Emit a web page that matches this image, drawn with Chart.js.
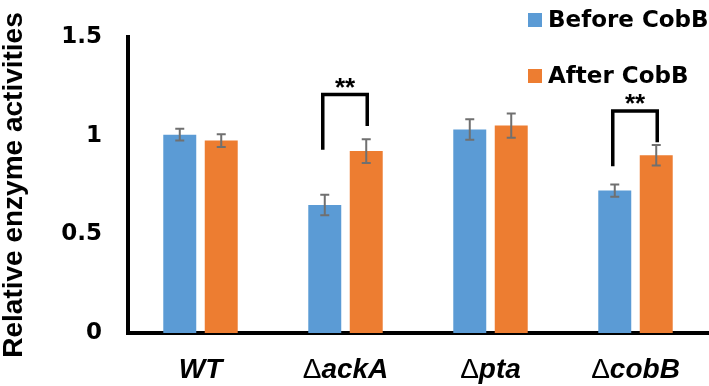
<!DOCTYPE html>
<html>
<head>
    <title>Relative enzyme activities</title>
    <script src="https://cdn.jsdelivr.net/npm/chart.js@4.4.0/dist/chart.umd.min.js"></script>
    <style>
        body { margin: 0; background: #fff; }
        .chart { width: 709px; height: 386px; }
    </style>
</head>
<body>
<div class="chart">
    <canvas id="enzyme-chart"></canvas>
</div>

<script>
    // values
    const categories = ['WT', '\u0394ackA', '\u0394pta', '\u0394cobB'];
    const beforeCobB = [1.005, 0.649, 1.031, 0.722];
    const beforeErr = [0.030, 0.052, 0.052, 0.031];
    const afterCobB = [0.975, 0.922, 1.051, 0.901];
    const afterErr = [0.032, 0.060, 0.061, 0.052];
    const yTicks = [0, 0.5, 1, 1.5];
    // significance brackets: group index, top / left foot / right foot heights
    const brackets = [
        {group: 1, top: 1.208, left: 0.929, right: 1.049, mark: '**'},
        {group: 3, top: 1.125, left: 0.845, right: 0.967, mark: '**'}
    ];

    const errorBars = {
        id: 'errorBars',
        afterDatasetsDraw(chart) {
            const ctx = chart.ctx;
            const y = chart.scales.y;
            ctx.save();
            ctx.strokeStyle = '#707070';
            ctx.lineWidth = 2;
            chart.data.datasets.forEach((ds, i) => {
                chart.getDatasetMeta(i).data.forEach((bar, j) => {
                    const v = ds.data[j], e = ds.errors[j];
                    const y1 = y.getPixelForValue(v + e), y2 = y.getPixelForValue(v - e);
                    ctx.beginPath();
                    ctx.moveTo(bar.x, y1); ctx.lineTo(bar.x, y2);
                    ctx.moveTo(bar.x - 4.5, y1); ctx.lineTo(bar.x + 4.5, y1);
                    ctx.moveTo(bar.x - 4.5, y2); ctx.lineTo(bar.x + 4.5, y2);
                    ctx.stroke();
                });
            });
            ctx.restore();
        }
    };

    const sigBrackets = {
        id: 'sigBrackets',
        afterDatasetsDraw(chart) {
            const ctx = chart.ctx;
            const y = chart.scales.y;
            ctx.save();
            ctx.strokeStyle = '#000';
            ctx.lineWidth = 3.5;
            ctx.lineCap = 'butt';
            brackets.forEach(b => {
                const xl = chart.getDatasetMeta(0).data[b.group].x - 2;
                const xr = chart.getDatasetMeta(1).data[b.group].x + 1;
                const yt = y.getPixelForValue(b.top);
                ctx.beginPath();
                ctx.moveTo(xl, y.getPixelForValue(b.left));
                ctx.lineTo(xl, yt);
                ctx.lineTo(xr, yt);
                ctx.lineTo(xr, y.getPixelForValue(b.right));
                ctx.stroke();
                ctx.fillStyle = '#000';
                ctx.font = 'bold 26px "Liberation Sans", Arial, sans-serif';
                ctx.textAlign = 'center';
                ctx.textBaseline = 'alphabetic';
                ctx.fillText(b.mark, (xl + xr) / 2, yt + 1);
            });
            ctx.restore();
        }
    };

    // x labels: upright delta, bold italic gene name
    const xLabels = {
        id: 'xLabels',
        afterDraw(chart) {
            const ctx = chart.ctx;
            const x = chart.scales.x;
            ctx.save();
            ctx.fillStyle = '#000';
            ctx.textBaseline = 'alphabetic';
            ctx.textAlign = 'left';
            const deltaFont = '28px "Liberation Sans", Arial, sans-serif';
            const nameFont = 'italic bold 28px "Liberation Sans", Arial, sans-serif';
            categories.forEach((c, i) => {
                const hasDelta = c.startsWith('\u0394');
                const name = hasDelta ? c.slice(1) : c;
                ctx.font = deltaFont;
                const dw = hasDelta ? ctx.measureText('\u0394').width : 0;
                ctx.font = nameFont;
                const nw = ctx.measureText(name).width;
                let cx = x.getPixelForValue(i) - (dw + nw) / 2;
                if (hasDelta) {
                    ctx.font = deltaFont;
                    ctx.fillText('\u0394', cx, 378);
                    cx += dw;
                }
                ctx.font = nameFont;
                ctx.fillText(name, cx, 378);
            });
            ctx.restore();
        }
    };

    const sideLegend = {
        id: 'sideLegend',
        afterDraw(chart) {
            const ctx = chart.ctx;
            ctx.save();
            ctx.font = 'bold 23px "DejaVu Sans", sans-serif';
            ctx.textBaseline = 'middle';
            ctx.textAlign = 'left';
            chart.data.datasets.forEach((ds, i) => {
                const cy = 20 + i * 56;
                ctx.fillStyle = ds.backgroundColor;
                ctx.fillRect(528, cy - 7, 14, 14);
                ctx.fillStyle = '#000';
                ctx.fillText(ds.label, 548, cy + 1);
            });
            ctx.restore();
        }
    };

    const ctx = document.getElementById('enzyme-chart').getContext('2d');
    const chart = new Chart(ctx, {
        type: 'bar',
        data: {
            labels: categories,
            datasets: [{
                label: 'Before CobB',
                data: beforeCobB,
                errors: beforeErr,
                backgroundColor: '#5B9BD5',
                categoryPercentage: 0.572,
                barPercentage: 0.795
            }, {
                label: 'After CobB',
                data: afterCobB,
                errors: afterErr,
                backgroundColor: '#ED7D31',
                categoryPercentage: 0.572,
                barPercentage: 0.795
            }]
        },
        options: {
            responsive: true,
            maintainAspectRatio: false,
            animation: false,
            layout: {
                padding: {top: 37, right: 1, bottom: 45, left: 0}
            },
            plugins: {
                legend: {display: false},
                tooltip: {enabled: false}
            },
            scales: {
                x: {
                    grid: {display: false},
                    ticks: {display: false},
                    border: {color: '#000', width: 4}
                },
                y: {
                    min: 0,
                    max: 1.5,
                    afterFit: (scale) => { scale.width = 128; },
                    afterBuildTicks: (scale) => { scale.ticks = yTicks.map(v => ({value: v})); },
                    grid: {display: false},
                    border: {color: '#000', width: 4},
                    ticks: {
                        color: '#000',
                        padding: 18,
                        callback: (v) => String(v),
                        font: {family: '"DejaVu Sans", sans-serif', size: 23, weight: 'bold'}
                    },
                    title: {
                        display: true,
                        text: 'Relative enzyme activities',
                        color: '#000',
                        padding: 0,
                        font: {family: '"Liberation Sans", Arial, sans-serif', size: 28, weight: 'bold', lineHeight: 1}
                    }
                }
            }
        },
        plugins: [errorBars, sigBrackets, xLabels, sideLegend]
    });
</script>
</body>
</html>
